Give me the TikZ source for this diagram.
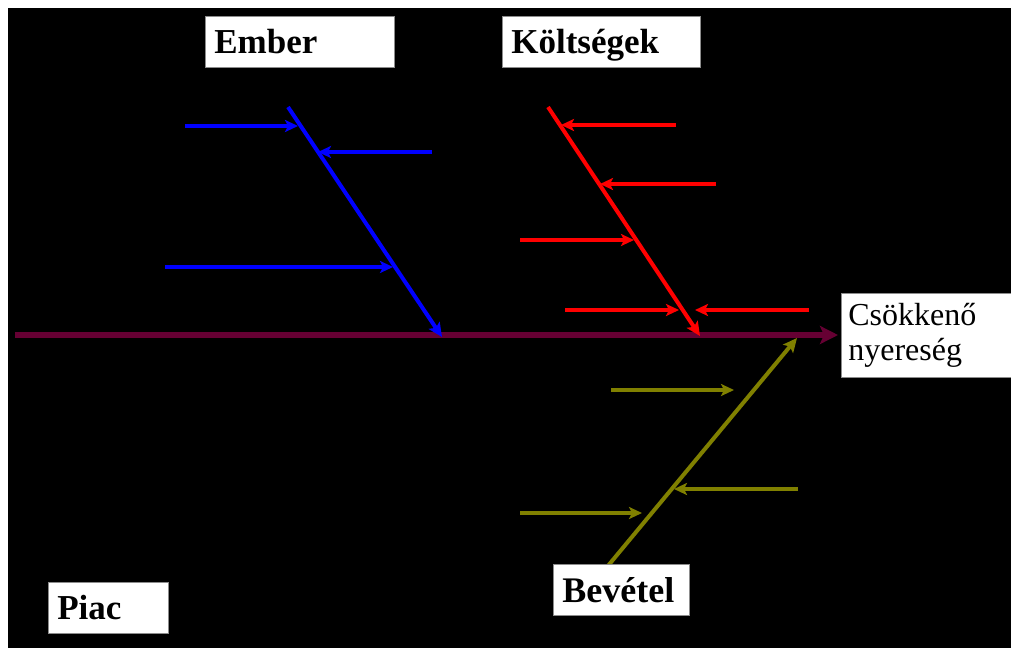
\documentclass[tikz,border=0pt]{standalone}
\usepackage{fontspec}
\setmainfont{Liberation Serif}
\usetikzlibrary{arrows.meta}

\definecolor{spinecol}{RGB}{102,0,51}
\definecolor{olivecol}{RGB}{128,128,0}

\begin{document}
\begin{tikzpicture}[x=1pt, y=-1pt,
        bone/.style={line width=4pt, -{Stealth[length=14pt,width=13pt,inset=3pt]}},
        rib/.style={line width=3.5pt, -{Stealth[length=13pt,width=12pt,inset=3pt]}},
        tag/.style={fill=white, draw=black!45, line width=0.6pt, anchor=north west,
            inner xsep=9pt, inner ysep=2pt, minimum height=51pt, align=left,
            text depth=0pt, font=\fontsize{35}{40}\selectfont\bfseries}]
        \useasboundingbox (0,0) rectangle (1011,648);
        \fill[white] (0,0) rectangle (1011,648);
        \fill[black] (8,8) rectangle (1011,648);

        % spine
        \coordinate (tail) at (15,335);
        \coordinate (head) at (838,335);
        \draw[line width=6pt, spinecol, -{Stealth[length=18pt,width=18pt,inset=4pt]}] (tail) -- (head);

        % Ember
        \coordinate (b0) at (288,107);
        \coordinate (b1) at (442,337);
        \draw[bone, blue] (b0) -- (b1);
        \draw[rib, blue] (185,126) -- (298,126);
        \draw[rib, blue] (432,152) -- (318,152);
        \draw[rib, blue] (165,267) -- (393,267);

        % Koltsegek
        \coordinate (r0) at (548,107);
        \coordinate (r1) at (700,336);
        \draw[bone, red] (r0) -- (r1);
        \draw[rib, red] (676,125) -- (561,125);
        \draw[rib, red] (716,184) -- (600,184);
        \draw[rib, red] (520,240) -- (634,240);
        \draw[rib, red] (565,310) -- (679,310);
        \draw[rib, red] (809,310) -- (695,310);

        % Bevetel
        \coordinate (o0) at (607,567);
        \coordinate (o1) at (797,338);
        \draw[bone, olivecol] (o0) -- (o1);
        \draw[rib, olivecol] (611,390) -- (734,390);
        \draw[rib, olivecol] (798,489) -- (674,489);
        \draw[rib, olivecol] (520,513) -- (642,513);

        \node[tag, text width=171pt] (ember) at (205,16) {Ember};
        \node[tag, text width=180pt] (koltseg) at (502,16) {Költségek};
        \node[tag, text width=102pt] (piac) at (48,582) {Piac};
        \node[tag, text width=118pt, font=\fontsize{36}{40}\selectfont\bfseries] (bevetel) at (553,564) {Bevétel};
        \node[tag, font=\fontsize{32}{35}\selectfont, inner xsep=7pt, text width=170pt,
            text depth=, minimum height=84pt] (effect) at (841,293) {Csökkenő\\nyereség};
    \end{tikzpicture}
\end{document}
